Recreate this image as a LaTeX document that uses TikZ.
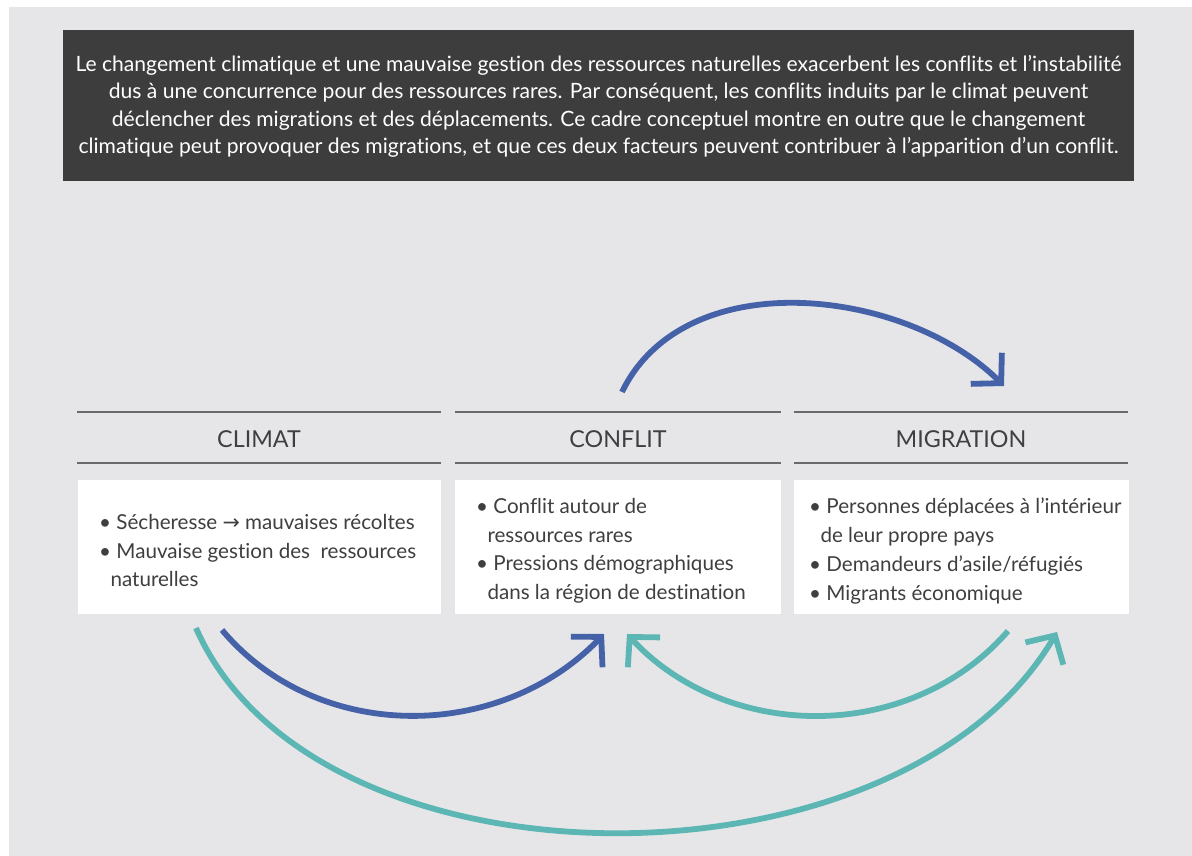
\documentclass[tikz,border=0pt]{standalone}
\usepackage{fontspec}
\setmainfont{Lato}[Ligatures=NoCommon]
\newfontfamily\symfont{DejaVu Sans}
\usetikzlibrary{arrows.meta}
\definecolor{panel}{HTML}{E6E6E8}
\definecolor{banner}{HTML}{3D3D3D}
\definecolor{ink}{HTML}{3F3F3F}
\definecolor{rulegray}{HTML}{6A6A6A}
\definecolor{arrowblue}{HTML}{4562A8}
\definecolor{arrowteal}{HTML}{5CB6B4}
\newcommand{\itm}{\textbullet\ }
\newcommand{\cont}{\hspace*{0.55em}}
\begin{document}
\begin{tikzpicture}[x=1pt,y=-1pt,
  flow/.style={line width=5.8pt,
    -{Straight Barb[length=21pt,width=44pt]}},
  colrule/.style={draw=rulegray, line width=1.3pt},
  coltitle/.style={text=ink, font=\fontsize{23.3}{27}\selectfont, inner sep=0pt},
  card/.style={fill=white, draw=none},
  cardtext/.style={text=ink, font=\fontsize{20.6}{28.7}\selectfont,
    align=left, inner sep=0pt, anchor=north west}]
\useasboundingbox (0,0) rectangle (1192,856);
\fill[white] (0,0) rectangle (1192,856);
\fill[panel] (9,7) rectangle (1192,856);

% banner with the summary
\node[fill=banner, minimum width=1071pt, minimum height=151pt, inner sep=0pt]
  (banner) at (598.5,105.5) {};
\node[text=white, align=center, inner sep=0pt,
  font=\fontsize{21.1}{27.3}\selectfont] (summary) at (598.5,106.5)
  {Le changement climatique et une mauvaise gestion des ressources naturelles exacerbent les conflits et l’instabilité\\
   dus à une concurrence pour des ressources rares. Par conséquent, les conflits induits par le climat peuvent\\
   déclencher des migrations et des déplacements. Ce cadre conceptuel montre en outre que le changement\\
   climatique peut provoquer des migrations, et que ces deux facteurs peuvent contribuer à l’apparition d’un conflit.};

% column rules and titles
\foreach \a/\b in {77/441, 455/781, 794/1128} {
  \draw[colrule] (\a,412) -- (\b,412);
  \draw[colrule] (\a,463) -- (\b,463);
}
\node[coltitle] (tclimat) at (259,439) {CLIMAT};
\node[coltitle] (tconflit) at (618,439) {CONFLIT};
\node[coltitle] (tmigration) at (961,439) {MIGRATION};

% white cards
\fill[card] (78,480) rectangle (441,614);
\fill[card] (455,480) rectangle (781,614);
\fill[card] (794,480) rectangle (1129,614);

\node[cardtext] (climattext) at (99,514)
  {\itm Sécheresse {\symfont →} mauvaises récoltes\\
   \itm Mauvaise gestion des\ \ ressources\\
   \cont naturelles};
\node[cardtext] (conflittext) at (476,498)
  {\itm Conflit autour de\\
   \cont ressources rares\\
   \itm Pressions démographiques\\
   \cont dans la région de destination};
\node[cardtext] (migrationtext) at (809,498)
  {\itm Personnes déplacées à l’intérieur\\
   \cont de leur propre pays\\
   \itm Demandeurs d’asile/réfugiés\\
   \itm Migrants économique};

% connectors between the columns
\coordinate (c1s) at (622,392);
\coordinate (c1e) at (1004,386);
\draw[flow, draw=arrowblue] (c1s) .. controls (685,262) and (906,288) .. (c1e);

\coordinate (c2s) at (222,630);
\coordinate (c2e) at (604,634);
\draw[flow, draw=arrowblue] (c2s) .. controls (318,744) and (500,742) .. (c2e);

\coordinate (c3s) at (1008,631);
\coordinate (c3e) at (627,634);
\draw[flow, draw=arrowteal] (c3s) .. controls (910,744) and (727,742) .. (c3e);

\coordinate (c4s) at (196,628);
\coordinate (c4e) at (1057,632);
\draw[flow, draw=arrowteal] (c4s) .. controls (315,900) and (900,900) .. (c4e);
\end{tikzpicture}
\end{document}
